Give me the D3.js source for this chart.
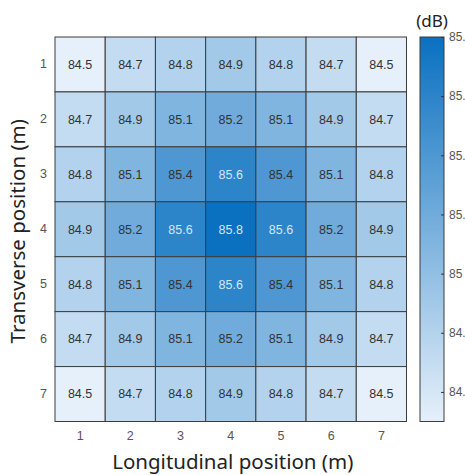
<!DOCTYPE html>
<html>
<head>
<meta charset="utf-8">
<script src="https://cdn.jsdelivr.net/npm/d3@7"></script>
<style>
  body { margin: 0; background: #fff; }
  svg { display: block; }
</style>
</head>
<body>
<div id="chart"></div>
<script>
const cols = ["1", "2", "3", "4", "5", "6", "7"];
const rows = ["1", "2", "3", "4", "5", "6", "7"];
const values = [
    [84.5, 84.7, 84.8, 84.9, 84.8, 84.7, 84.5],
    [84.7, 84.9, 85.1, 85.2, 85.1, 84.9, 84.7],
    [84.8, 85.1, 85.4, 85.6, 85.4, 85.1, 84.8],
    [84.9, 85.2, 85.6, 85.8, 85.6, 85.2, 84.9],
    [84.8, 85.1, 85.4, 85.6, 85.4, 85.1, 84.8],
    [84.7, 84.9, 85.1, 85.2, 85.1, 84.9, 84.7],
    [84.5, 84.7, 84.8, 84.9, 84.8, 84.7, 84.5]
];
const colorTicks = [84.6, 84.8, 85, 85.2, 85.4, 85.6, 85.8];

const W = 465, H = 475;
const margin = { top: 37, left: 55 };
const gw = 351.5, gh = 384.5;

const svg = d3.select("#chart")
    .append("svg")
    .attr("width", W)
    .attr("height", H);

const g = svg.append("g")
    .attr("transform", `translate(${margin.left},${margin.top})`);

const x = d3.scaleBand().domain(cols).range([0, gw]);
const y = d3.scaleBand().domain(rows).range([0, gh]);

const color = d3.scaleLinear()
    .domain([84.5, 85.8])
    .range(["#e6f0fa", "#0a70c0"])
    .interpolate(d3.interpolateRgb);

const cells = [];
values.forEach((r, i) => r.forEach((v, j) => cells.push({ row: rows[i], col: cols[j], v })));

g.selectAll("rect.cell")
    .data(cells)
    .enter()
    .append("rect")
    .attr("class", "cell")
    .attr("x", d => x(d.col))
    .attr("y", d => y(d.row))
    .attr("width", x.bandwidth())
    .attr("height", y.bandwidth())
    .attr("fill", d => color(d.v))
    .attr("stroke", "#3c3c3c")
    .attr("stroke-width", 1);

g.selectAll("text.val")
    .data(cells)
    .enter()
    .append("text")
    .attr("class", "val")
    .attr("x", d => x(d.col) + x.bandwidth() / 2)
    .attr("y", d => y(d.row) + y.bandwidth() / 2)
    .attr("dy", "0.35em")
    .attr("text-anchor", "middle")
    .style("font-family", "'Liberation Sans Narrow', 'Liberation Sans', Arial, sans-serif")
    .style("font-size", "12.5px")
    .attr("fill", d => d.v >= 85.55 ? "#d6e7f6" : "#333")
    .text(d => d.v.toFixed(1));

// axes
const xAxis = g.append("g")
    .attr("transform", `translate(0,${gh})`)
    .call(d3.axisBottom(x).tickSize(0).tickPadding(10));
const yAxis = g.append("g")
    .call(d3.axisLeft(y).tickSize(0).tickPadding(8));
[xAxis, yAxis].forEach(a => {
    a.select(".domain").remove();
    a.selectAll("text")
        .style("font-family", "'Liberation Sans Narrow', 'Liberation Sans', Arial, sans-serif")
        .style("font-size", "12.5px")
        .attr("fill", "#555");
});

svg.append("text")
    .attr("x", margin.left + gw / 2 + 2)
    .attr("y", 469)
    .attr("text-anchor", "middle")
    .style("font-family", "'Noto Sans', sans-serif")
    .style("font-size", "20.5px")
    .attr("fill", "#222")
    .text("Longitudinal position (m)");

svg.append("text")
    .attr("transform", `translate(25,${margin.top + gh / 2 + 2}) rotate(-90)`)
    .attr("text-anchor", "middle")
    .style("font-family", "'Noto Sans', sans-serif")
    .style("font-size", "20.5px")
    .attr("fill", "#222")
    .text("Transverse position (m)");

// colorbar
const cbX = 420, cbW = 24;
const cy = d3.scaleLinear().domain([84.5, 85.8]).range([margin.top + gh, margin.top]);

const grad = svg.append("defs")
    .append("linearGradient")
    .attr("id", "cb-grad")
    .attr("x1", 0).attr("y1", 1)
    .attr("x2", 0).attr("y2", 0);
grad.append("stop").attr("offset", "0%").attr("stop-color", color(84.5));
grad.append("stop").attr("offset", "100%").attr("stop-color", color(85.8));

svg.append("rect")
    .attr("x", cbX)
    .attr("y", cy(85.8))
    .attr("width", cbW)
    .attr("height", cy(84.5) - cy(85.8))
    .attr("fill", "url(#cb-grad)")
    .attr("stroke", "#3c3c3c")
    .attr("stroke-width", 1);

const cbAxis = svg.append("g")
    .attr("transform", `translate(${cbX + cbW},0)`)
    .call(d3.axisRight(cy).tickValues(colorTicks).tickSize(0).tickPadding(5).tickFormat(d3.format("")));
cbAxis.select(".domain").remove();
cbAxis.selectAll("text")
    .style("font-family", "'Liberation Sans Narrow', 'Liberation Sans', Arial, sans-serif")
    .style("font-size", "12px")
    .attr("fill", "#555");
cbAxis.selectAll(".tick")
    .append("line")
    .attr("x1", 0).attr("x2", -3)
    .attr("stroke", "#333");

svg.append("text")
    .attr("x", cbX + cbW / 2)
    .attr("y", 27)
    .attr("text-anchor", "middle")
    .style("font-family", "'Noto Sans', sans-serif")
    .style("font-size", "17px")
    .attr("fill", "#222")
    .text("(dB)");
</script>
</body>
</html>
